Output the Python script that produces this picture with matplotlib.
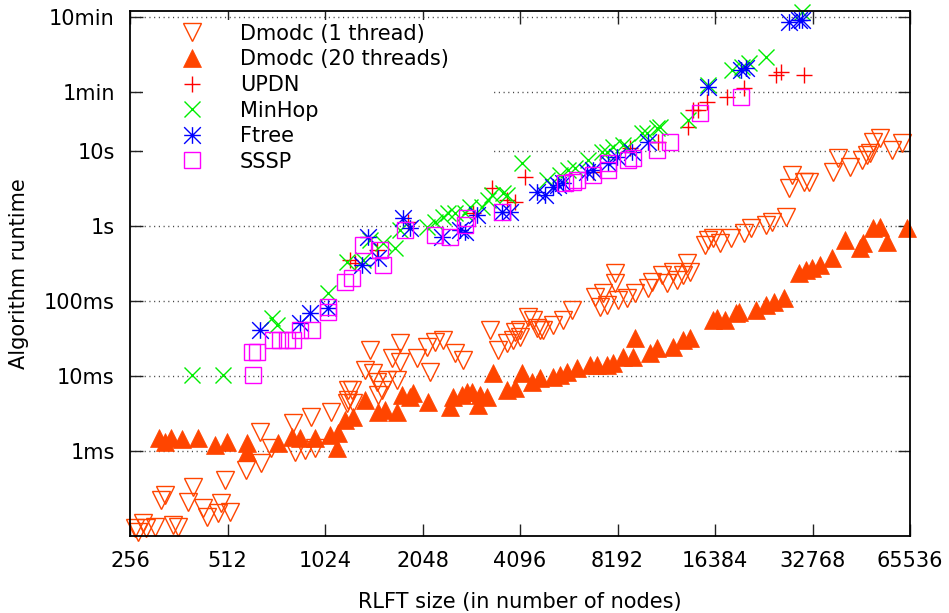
import matplotlib
matplotlib.use("Agg")
import matplotlib.pyplot as plt
from matplotlib.path import Path
from matplotlib.patches import Rectangle
from matplotlib.ticker import NullLocator

plt.rcParams['font.family'] = ['DejaVu Sans']

# ---- data (x: RLFT size in nodes, y: runtime in milliseconds) ----
dmodc1_x = [265, 271, 280, 286, 305, 347, 360, 318, 328, 400, 386, 430, 443, 488, 478, 521,
            503, 584, 650, 645, 698, 826, 889, 953, 815, 926, 1069, 1197, 1205, 1240, 1205, 1249,
            1360, 1439, 1480, 1588, 1705, 1534, 1491, 1409, 1741, 1646, 1741, 1965, 2110, 2234,
            2369, 2156, 2580, 2728, 3307, 3500, 3732, 3951, 3894, 4336, 4491, 4720, 5175, 5557,
            5924, 4096, 4096, 4822, 4620, 8039, 8039, 6975, 7382, 7230, 7594, 8220, 8762, 9276,
            10178, 10470, 11220, 11630, 12130, 12480, 13020, 13400, 13690, 15210, 15540, 16100,
            16940, 18420, 20200, 21230, 23600, 24630, 27170, 28360, 27760, 30850, 31960, 37890,
            39290, 42750, 46530, 48210, 49250, 50320, 52860, 57560, 61850]
dmodc1_y = [0.0932, 0.0824, 0.109, 0.0932, 0.0961, 0.102, 0.0961, 0.220, 0.257, 0.328, 0.207,
            0.172, 0.131, 0.201, 0.148, 0.152, 0.407, 0.553, 0.685, 1.77, 1.09, 0.961, 1.02, 1.09,
            2.34, 2.81, 3.28, 4.33, 6.44, 6.44, 4.74, 4.33, 11.9, 10.9, 8.24, 8.77, 8.77, 6.44,
            5.53, 22.0, 27.3, 17.2, 15.2, 17.2, 24.1, 28.1, 29.9, 11.2, 20.1, 16.2, 40.7, 22.0,
            27.3, 38.3, 29.9, 60.7, 55.3, 40.7, 47.4, 55.3, 75.2, 40.7, 32.8, 40.7, 43.3, 234,
            172, 112, 127, 82.4, 87.7, 102, 109, 127, 148, 178, 220, 172, 241, 189, 220, 318, 241,
            553, 644, 685, 588, 685, 800, 932, 1020, 1120, 1310, 4740, 3180, 3830, 3830, 5200,
            8000, 6060, 7520, 8770, 9310, 13100, 14800, 10200, 12700]

dmodc20_x = [314, 328, 342, 370, 415, 469, 510, 588, 588, 733, 810, 858, 953, 1061, 1115, 1123,
             1180, 1249, 1360, 1491, 1566, 1705, 1767, 1869, 1909, 2125, 2491, 2544, 2709, 2806,
             2909, 3036, 3080, 3238, 3378, 3732, 3951, 4155, 4459, 4720, 5175, 5440, 5717, 6140,
             6733, 7077, 7594, 7928, 8516, 9148, 9276, 10320, 10830, 12130, 13020, 13690, 16100,
             16590, 17540, 19080, 19490, 21990, 23600, 24980, 26800, 29780, 31300, 32660, 34570,
             37630, 41270, 45860, 46860, 50320, 52860, 55560, 64150]
dmodc20_y = [1.48, 1.31, 1.48, 1.43, 1.48, 1.19, 1.31, 1.27, 0.961, 1.27, 1.52, 1.48, 1.48, 1.62,
             1.09, 1.72, 2.57, 2.81, 4.74, 3.28, 3.49, 3.28, 5.53, 5.20, 5.88, 4.46, 3.83, 5.20,
             5.53, 6.06, 6.06, 4.07, 5.53, 5.20, 10.9, 6.44, 6.85, 10.9, 8.24, 9.31, 9.6, 10.2,
             11.2, 12.7, 13.9, 13.9, 13.9, 14.8, 17.8, 17.8, 31.8, 20.1, 23.4, 24.1, 29.9, 31.8,
             55.3, 58.8, 55.3, 68.5, 70.7, 75.2, 87.7, 96.1, 109, 234, 257, 273, 299, 371, 644,
             505, 588, 932, 961, 606, 932]

updn_x = [1222, 1267, 1480, 1843, 2929, 3355, 3732, 3951, 4243, 6879, 8953, 10910, 13490, 13980,
          14480, 15430, 17790, 20200, 25340, 26230, 30850]
updn_y = [349, 318, 474, 1120, 1480, 3180, 2200, 2070, 4460, 5200, 10900, 13100, 20700, 34900,
          34900, 44600, 52000, 68500, 102000, 112000, 102000]

minhop_x = [398, 496, 703, 728, 1046, 1197, 1341, 1409, 1544, 1681, 1741, 2110, 2234, 2369, 2455,
            2580, 2767, 2867, 3124, 3261, 3355, 3628, 3732, 4155, 4960, 5440, 5758, 6052, 6636,
            7331, 7594, 7928, 8516, 8762, 9749, 10107, 10830, 11070, 13490, 15540, 18550, 19920,
            20930, 23600, 30430]
minhop_y = [10.2, 10.2, 58.8, 47.4, 127, 328, 349, 644, 588, 505, 877, 961, 1120, 1310, 1480,
            1480, 1480, 1780, 1780, 2200, 2570, 2730, 2570, 6850, 4070, 4740, 5530, 5880, 7520,
            9610, 9610, 11200, 11900, 11200, 17200, 17200, 20100, 20700, 25700, 75200, 119000,
            131000, 148000, 177000, 706000]

ftree_x = [645, 858, 920, 1046, 1331, 1389, 1491, 1779, 1869, 2353, 2670, 2767, 3015, 3600, 3811,
           4620, 4890, 5175, 5362, 5557, 6590, 6879, 7652, 8156, 9085, 10178, 15540, 19780, 20490,
           27760, 29780, 30430]
ftree_y = [40.7, 50.4, 68.5, 80.0, 299, 707, 371, 1270, 932, 707, 877, 824, 1390, 1520, 1520,
           2810, 2570, 3280, 3490, 3710, 5200, 5530, 6850, 8250, 9610, 13100, 70600, 119000,
           127000, 520000, 553000, 553000]

sssp_x = [614, 609, 631, 708, 744, 782, 815, 858, 933, 1046, 1046, 1180, 1240, 1341, 1512, 1544,
          1805, 2234, 2491, 2767, 2806, 3600, 5638, 5968, 6140, 6879, 7652, 7652, 8830, 9148,
          10830, 11870, 14690, 19780]
sssp_y = [10.2, 20.7, 20.7, 29.9, 29.9, 29.9, 29.9, 40.7, 40.7, 70.7, 82.4, 178, 201, 553, 474,
          299, 877, 752, 707, 1020, 1270, 1520, 3710, 3830, 4070, 4740, 6850, 5530, 7520, 8000,
          10200, 13100, 31800, 52000]

x_ticks = [256, 512, 1024, 2048, 4096, 8192, 16384, 32768, 65536]
x_tick_labels = ["256", "512", "1024", "2048", "4096", "8192", "16384", "32768", "65536"]
y_ticks = [1, 10, 100, 1000, 10000, 60000, 600000]
y_tick_labels = ["1ms", "10ms", "100ms", "1s", "10s", "1min", "10min"]

# ---- figure ----
W, H = 949, 613
AX_L, AX_R, AX_T, AX_B = 130, 910, 11, 535.7
fig = plt.figure(figsize=(W / 100, H / 100), dpi=100)
ax = fig.add_axes([AX_L / W, (H - AX_B) / H, (AX_R - AX_L) / W, (AX_B - AX_T) / H])
aw, ah = AX_R - AX_L, AX_B - AX_T

ax.set_xscale('log', base=2)
ax.set_yscale('log')
ax.set_xlim(256, 65536)
ax.set_ylim(0.0736, 729000)

orange = '#ff4500'
ast = Path([(-1, 0), (1, 0), (0, -1), (0, 1), (-1, -1), (1, 1), (-1, 1), (1, -1)],
           [Path.MOVETO, Path.LINETO] * 4)

common = dict(linestyle='none', clip_on=False)
ax.plot(dmodc1_x, dmodc1_y, marker='v', ms=12.5, mfc='none', mec=orange, mew=1.0,
        label='Dmodc (1 thread)', **common)
ax.plot(dmodc20_x, dmodc20_y, marker='^', ms=12.5, mfc=orange, mec=orange, mew=0.5,
        label='Dmodc (20 threads)', **common)
ax.plot(updn_x, updn_y, marker='+', ms=12, mec='#ff0000', mew=1.0, label='UPDN', **common)
ax.plot(minhop_x, minhop_y, marker='x', ms=11, mec='#00ee00', mew=1.0, label='MinHop', **common)
ax.plot(ftree_x, ftree_y, marker=ast, ms=12, mec='#0000ff', mew=1.0, label='Ftree', **common)
ax.plot(sssp_x, sssp_y, marker='s', ms=12, mfc='none', mec='#ff00ff', mew=1.0, label='SSSP',
        **common)

ax.set_xticks(x_ticks)
ax.set_xticklabels(x_tick_labels)
ax.set_yticks(y_ticks)
ax.set_yticklabels(y_tick_labels)
ax.xaxis.set_minor_locator(NullLocator())
ax.yaxis.set_minor_locator(NullLocator())

ax.tick_params(axis='both', which='major', direction='in', top=True, right=True,
               length=9, width=1.0, labelsize=15, pad=11, color='#222222')
for s in ax.spines.values():
    s.set_linewidth(1.3)

ax.set_axisbelow(True)
ax.yaxis.grid(True, linestyle=(0, (0.8, 2.6)), linewidth=1.0, color='#444444')
ax.xaxis.grid(False)

ax.set_xlabel('RLFT size (in number of nodes)', fontsize=15, labelpad=15)
ax.set_ylabel('Algorithm runtime', fontsize=15, labelpad=11)

# opaque key area (hides grid behind the key, like gnuplot's opaque key)
ax.add_patch(Rectangle(((143 - AX_L) / aw, 1 - (176 - AX_T) / ah),
                       (492 - 143) / aw, (176 - 19.5) / ah,
                       transform=ax.transAxes, facecolor='white', edgecolor='none',
                       zorder=1))

leg = ax.legend(loc='upper left', bbox_to_anchor=(13 / aw, 1 - 8.5 / ah),
                borderaxespad=0, borderpad=0.2, fontsize=15, frameon=False,
                handlelength=4.3, handletextpad=0.16, labelspacing=0.27, numpoints=1)
leg.set_zorder(3)

fig.savefig('out.png', dpi=100)
